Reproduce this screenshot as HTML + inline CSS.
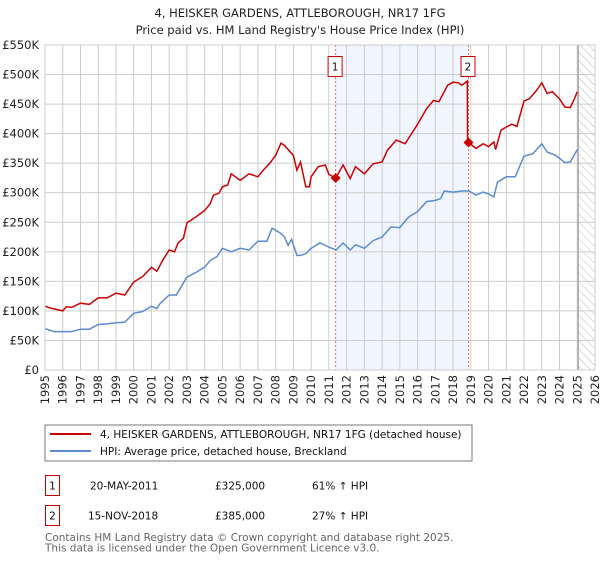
<!DOCTYPE html>
<html><head><meta charset="utf-8"><style>
body{margin:0;background:#fff;width:600px;height:560px;overflow:hidden;font-family:"DejaVu Sans","Liberation Sans",sans-serif;}
svg text{font-family:"DejaVu Sans","Liberation Sans",sans-serif;}
</style></head><body>
<svg id="c" width="600" height="560" xmlns="http://www.w3.org/2000/svg">
<defs><pattern id="hatch" width="6" height="6" patternUnits="userSpaceOnUse" patternTransform="rotate(-45)"><line x1="0" y1="0" x2="0" y2="6" stroke="#bbb" stroke-width="1"/></pattern></defs>
<text x="300" y="17" text-anchor="middle" font-size="11.5" fill="#222">4, HEISKER GARDENS, ATTLEBOROUGH, NR17 1FG</text>
<text x="300" y="34" text-anchor="middle" font-size="11.5" fill="#222">Price paid vs. HM Land Registry's House Price Index (HPI)</text>
<g id="plot"></g>
<rect x="45" y="425" width="427" height="36" fill="#fff" stroke="#777"/>
<line x1="50" y1="434" x2="91" y2="434" stroke="#cc0000" stroke-width="2"/>
<text x="100" y="438" font-size="10.5" fill="#111">4, HEISKER GARDENS, ATTLEBOROUGH, NR17 1FG (detached house)</text>
<line x1="50" y1="451" x2="91" y2="451" stroke="#5b8bd0" stroke-width="2"/>
<text x="100" y="455" font-size="10.5" fill="#111">HPI: Average price, detached house, Breckland</text>
<g>
<rect x="45.5" y="475.5" width="14" height="20" fill="#fff" stroke="#cc0000"/>
<text x="52.5" y="489.5" text-anchor="middle" font-size="10.5" fill="#111">1</text>
<text x="90" y="489.5" font-size="10.5" fill="#111">20-MAY-2011</text>
<text x="215" y="489.5" font-size="10.5" fill="#111">£325,000</text>
<text x="312" y="489.5" font-size="10.5" fill="#111">61% ↑ HPI</text></g>
<g>
<rect x="45.5" y="505.5" width="14" height="20" fill="#fff" stroke="#cc0000"/>
<text x="52.5" y="519.5" text-anchor="middle" font-size="10.5" fill="#111">2</text>
<text x="88" y="519.5" font-size="10.5" fill="#111">15-NOV-2018</text>
<text x="215" y="519.5" font-size="10.5" fill="#111">£385,000</text>
<text x="312" y="519.5" font-size="10.5" fill="#111">27% ↑ HPI</text></g>
<text x="45" y="541" font-size="10.5" fill="#666">Contains HM Land Registry data © Crown copyright and database right 2025.</text>
<text x="45" y="551.5" font-size="10.5" fill="#666">This data is licensed under the Open Government Licence v3.0.</text>
</svg>
<script>
const hpiYears=[1995,1995.5,1996,1996.5,1997,1997.5,1998,1998.5,1999,1999.5,2000,2000.5,2001,2001.3,2001.5,2002,2002.4,2003,2003.5,2004,2004.3,2004.7,2005,2005.5,2006,2006.5,2007,2007.5,2007.8,2008.3,2008.5,2008.7,2008.9,2009.2,2009.4,2009.7,2010,2010.5,2011,2011.4,2011.8,2012.2,2012.5,2013,2013.5,2014,2014.5,2015,2015.5,2016,2016.5,2017,2017.3,2017.5,2018,2018.5,2018.9,2019.3,2019.7,2020,2020.3,2020.5,2021,2021.5,2022,2022.5,2023,2023.3,2023.8,2024.3,2024.6,2025];
const hpiValues=[70,65,65,65,69,69,77,78,80,81,96,99,108,104,113,127,127,157,165,174,185,192,206,200,206,203,218,218,240,231,225,211,221,194,194,197,206,215,208,203,215,203,212,206,219,225,242,241,259,268,285,287,290,303,301,303,303,296,301,298,293,318,327,327,362,366,383,369,363,351,352,373];
const priceYears=[1995,1995.3,1996,1996.2,1996.5,1997,1997.5,1998,1998.5,1999,1999.5,2000,2000.5,2001,2001.3,2001.7,2002,2002.3,2002.5,2002.8,2003,2003.5,2004,2004.3,2004.5,2004.8,2005,2005.3,2005.5,2006,2006.5,2007,2007.3,2007.7,2008,2008.3,2008.5,2009,2009.2,2009.4,2009.7,2009.9,2010,2010.4,2010.8,2011,2011.38,2011.8,2012.2,2012.5,2013,2013.5,2014,2014.3,2014.8,2015.3,2015.6,2016,2016.5,2016.9,2017.2,2017.4,2017.7,2018,2018.3,2018.5,2018.8,2018.82,2018.87,2019.3,2019.7,2020,2020.3,2020.4,2020.7,2021,2021.3,2021.6,2022,2022.3,2022.7,2023,2023.3,2023.6,2024,2024.3,2024.6,2024.8,2025];
const priceValues=[108,105,100,107,106,113,111,122,122,130,127,149,158,174,167,189,203,200,215,223,249,259,270,281,296,299,310,313,332,321,332,327,338,351,363,384,380,363,338,352,310,310,327,344,347,331,325,347,324,344,332,349,352,372,389,383,397,416,442,456,454,465,482,487,486,482,489,389,385,375,383,378,386,373,406,411,416,412,455,459,473,486,468,471,459,445,444,456,471];
const saleYears=[2011.38,2018.87];
const salePrices=[325,385];
const saleLabels=["1","2"];
const yTicks=[0,50,100,150,200,250,300,350,400,450,500,550];
const yTickLabels=["£0","£50K","£100K","£150K","£200K","£250K","£300K","£350K","£400K","£450K","£500K","£550K"];
const xTicks=[1995,1996,1997,1998,1999,2000,2001,2002,2003,2004,2005,2006,2007,2008,2009,2010,2011,2012,2013,2014,2015,2016,2017,2018,2019,2020,2021,2022,2023,2024,2025,2026];

const X0=45,X1=595,Y0=370,Y1=45;
const xs=y=>X0+(y-1995)/(2026-1995)*(X1-X0);
const ys=v=>Y0-v/550*(Y0-Y1);
const NS="http://www.w3.org/2000/svg";
const g=document.getElementById('plot');
function mk(t,a){const e=document.createElementNS(NS,t);for(const k in a)e.setAttribute(k,a[k]);g.appendChild(e);return e;}
let e=mk('rect',{x:xs(saleYears[0]),y:Y1,width:xs(saleYears[1])-xs(saleYears[0]),height:Y0-Y1,fill:'#eef2fc',opacity:0.8});


e=mk('rect',{x:xs(2025.05),y:Y1,width:X1-xs(2025.05),height:Y0-Y1,fill:'url(#hatch)'});


yTicks.forEach((t,i)=>{
 let l=mk('line',{x1:X0,x2:X1,y1:ys(t),y2:ys(t),stroke:'#ccc','stroke-width':1});
 
 
 let tx=mk('text',{x:39,y:ys(t)+4,'text-anchor':'end','font-size':11.5,fill:'#222'});
 tx.textContent=yTickLabels[i];
 
 
});
xTicks.forEach(t=>{
 let l=mk('line',{x1:xs(t),x2:xs(t),y1:Y1,y2:Y0,stroke:'#ccc','stroke-width':1});
 
 
 let tx=mk('text',{x:0,y:0,'text-anchor':'end','font-size':11.5,fill:'#222',transform:`translate(${xs(t)+4},${Y0+5}) rotate(-90)`});
 tx.textContent=t;
 
 
});
e=mk('line',{x1:xs(2025.05),x2:xs(2025.05),y1:Y1,y2:Y0,stroke:'#888','stroke-width':1});


saleYears.forEach((s,i)=>{
 let l=mk('line',{x1:xs(s),x2:xs(s),y1:Y1,y2:Y0,stroke:'#f06060','stroke-width':1,'stroke-dasharray':'2,2'});
 
 
});
const pts=(a,b)=>a.map((y,i)=>xs(y).toFixed(1)+','+ys(b[i]).toFixed(1)).join(' ');
e=mk('polyline',{points:pts(hpiYears,hpiValues),fill:'none',stroke:'#5b8bd0','stroke-width':1.5});


e=mk('polyline',{points:pts(priceYears,priceValues),fill:'none',stroke:'#cc0000','stroke-width':1.5});


saleYears.forEach((s,i)=>{
 let cx=xs(s),cy=ys(salePrices[i]);
 let p=mk('polygon',{points:`${cx},${cy-5} ${cx+5},${cy} ${cx},${cy+5} ${cx-5},${cy}`,fill:'#cc0000'});
 
 
 let r=mk('rect',{x:cx-7.5,y:56.5,width:14,height:20,fill:'#fff',stroke:'#cc0000'});
 
 
 let t=mk('text',{x:cx-0.5,y:70.5,'text-anchor':'middle','font-size':10.5,fill:'#111'});
 t.textContent=saleLabels[i];
 
 
});
e=mk('rect',{x:X0,y:Y1,width:X1-X0,height:Y0-Y1,fill:'none',stroke:'#ccc'});


</script>
</body></html>
